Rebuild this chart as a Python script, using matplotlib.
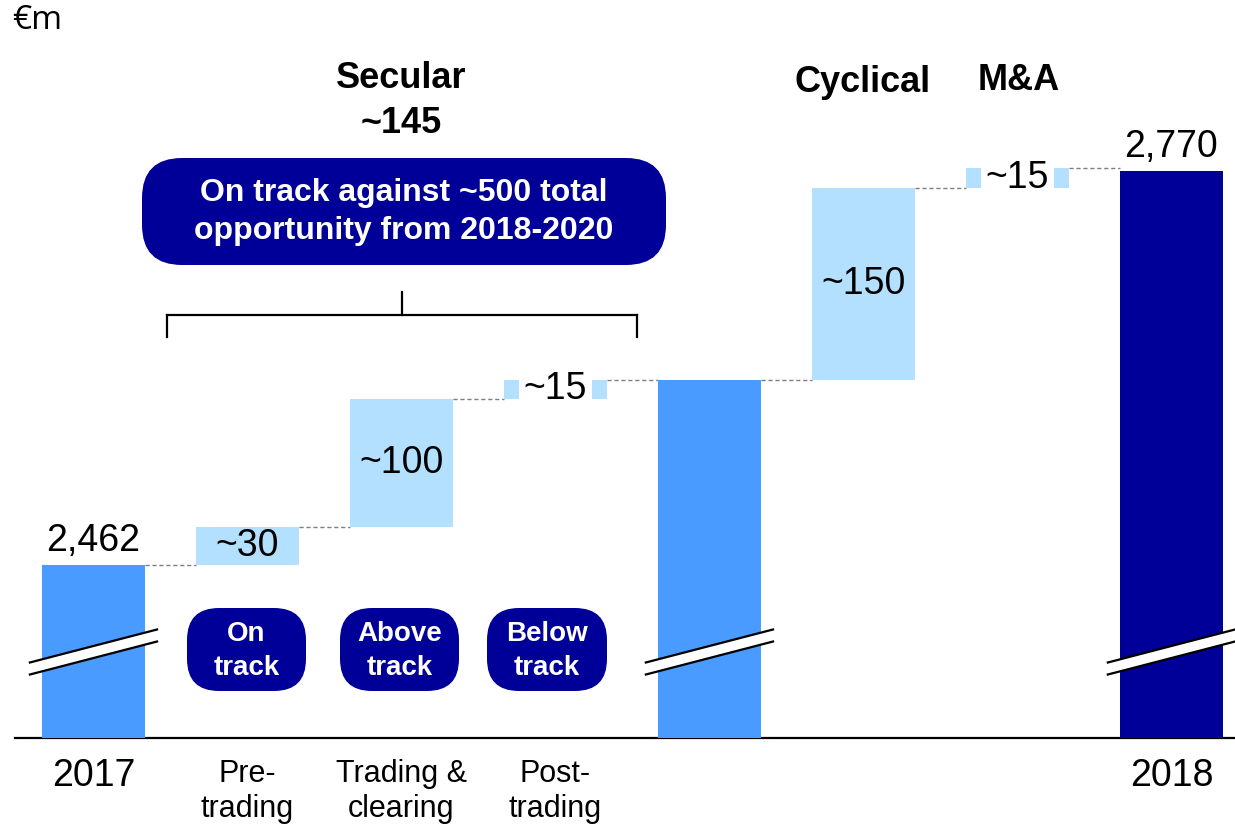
import matplotlib

matplotlib.use("Agg")
import matplotlib.pyplot as plt
from matplotlib.patches import FancyBboxPatch, Polygon
from matplotlib.transforms import IdentityTransform

# values (EUR m)
categories = ["2017", "Pre-\ntrading", "Trading &\nclearing", "Post-\ntrading", "", "", "", "2018"]
start_total = 2462
end_total = 2770
step_values = [30, 100, 15, 150, 15]
step_labels = ["~30", "~100", "~15", "~150", "~15"]
step_slots = [1, 2, 3, 5, 6]
secular_slots = 3  # first three steps make up the secular subtotal
subtotal_slot = 4
total_labels = ["2,462", "2,770"]
section_titles = ["Secular\n~145", "Cyclical", "M&A"]
track_status = ["On\ntrack", "Above\ntrack", "Below\ntrack"]
box_note = "On track against ~500 total\nopportunity from 2018-2020"

W, H, DPI = 1235, 827, 100
MID_BLUE = "#4A9BFF"
LIGHT_BLUE = "#B4E0FF"
NAVY = "#000099"
FONT = ["Liberation Sans", "DejaVu Sans"]
plt.rcParams["font.family"] = FONT

fig = plt.figure(figsize=(W / DPI, H / DPI), dpi=DPI, facecolor="white")
ax = fig.add_axes([0, 0, 1, 1])
ax.set_xlim(-0.607, 7.413)
ax.set_ylim(2257.2, 2903.7)
ax.axis("off")

BASE = 2326.8
BAR_W = 0.67
PX_PER_UNIT = 1.2792


def px(x, y):
    # top-left pixel coords -> display coords
    return x, H - y


pix = IdentityTransform()

# baseline
ax.plot([-0.51, 7.413], [BASE, BASE], color="black", lw=1.6, zorder=1)

# full bars
subtotal = start_total + sum(step_values[:secular_slots])
full = [(0, start_total, MID_BLUE), (subtotal_slot, subtotal, MID_BLUE), (7, end_total, NAVY)]
for x, v, c in full:
    ax.bar(x, v - BASE, bottom=BASE, width=BAR_W, color=c, zorder=2)

# floating steps
level = start_total
levels = []
for x, v, lab in zip(step_slots, step_values, step_labels):
    ax.bar(x, v, bottom=level, width=BAR_W, color=LIGHT_BLUE, zorder=2)
    mid = level + v / 2
    if v < 20:
        # small steps: label sits on the bar with a white backing
        ax.text(x, mid, lab, ha="center", va="center", fontsize=27, zorder=4,
                bbox=dict(boxstyle="square,pad=0.12", fc="white", ec="none"))
    else:
        ax.text(x, mid, lab, ha="center", va="center", fontsize=27, zorder=4)
    levels.append((level, level + v))
    level += v

# dashed connectors
seq = [0] + step_slots[:3] + [subtotal_slot] + step_slots[3:] + [7]
ys = [start_total] + [hi for _, hi in levels[:3]] + [subtotal] + [hi for _, hi in levels[3:]]
for i in range(len(seq) - 1):
    ax.plot([seq[i] + BAR_W / 2, seq[i + 1] - BAR_W / 2], [ys[i], ys[i]],
            color="#7f7f7f", lw=1.0, ls=(0, (3, 2)), zorder=1)

# total labels
for x, v, lab in [(0, start_total, total_labels[0]), (7, end_total, total_labels[1])]:
    ax.annotate(lab, (x, v), xytext=(0, 4), textcoords="offset points",
                ha="center", va="bottom", fontsize=27)

# axis breaks
BRK_Y = 2394.0
BRK_DX = 0.413
BRK_RISE = 12.9
BRK_GAP = 4.7
for x, _, _ in full:
    xs = [x - BRK_DX, x + BRK_DX]
    up = [BRK_Y - BRK_RISE + BRK_GAP, BRK_Y + BRK_RISE + BRK_GAP]
    dn = [BRK_Y - BRK_RISE - BRK_GAP, BRK_Y + BRK_RISE - BRK_GAP]
    ax.add_patch(Polygon([(xs[0], dn[0]), (xs[1], dn[1]), (xs[1], up[1]), (xs[0], up[0])],
                         closed=True, fc="white", ec="none", zorder=3))
    ax.plot(xs, up, color="black", lw=1.6, zorder=3)
    ax.plot(xs, dn, color="black", lw=1.6, zorder=3)

# category labels
for i, lab in enumerate(categories):
    if not lab:
        continue
    big = "\n" not in lab
    top_px = 758 if big else 759
    ax.text(i, 2257.2 + (H - top_px) / PX_PER_UNIT, lab, ha="center", va="top",
            fontsize=27 if big else 22, linespacing=1.22)

# unit
fig.text(*px(12, 4), "€m", transform=pix, ha="left", va="top", fontsize=24,
         family=["Open Sans", "DejaVu Sans"])

# section titles
fig.text(*px(401, 101), section_titles[0], transform=pix, ha="center", va="center",
         fontsize=26, fontweight="bold", linespacing=1.36)
fig.text(*px(863, 82), section_titles[1], transform=pix, ha="center", va="center",
         fontsize=26, fontweight="bold")
fig.text(*px(1019, 80), section_titles[2], transform=pix, ha="center", va="center",
         fontsize=26, fontweight="bold")

# big rounded note box
fig.patches.append(FancyBboxPatch(px(142, 265), 524, 107, transform=pix,
                                  boxstyle="round,pad=0,rounding_size=40",
                                  fc=NAVY, ec="none"))
fig.text(*px(404, 212), box_note, transform=pix, ha="center", va="center",
         fontsize=23, fontweight="bold", color="white", linespacing=1.38)

# bracket over secular steps
for (x0, y0), (x1, y1) in [[(167, 315), (637, 315)], [(167, 315), (167, 337)],
                           [(637, 315), (637, 337)], [(402, 315), (402, 292)]]:
    fig.lines.append(plt.Line2D([x0, x1], [H - y0, H - y1], transform=pix,
                                color="black", lw=1.6))

# status pills
pills = [(187, 306), (340, 459), (487, 607)]
for (x0, x1), txt in zip(pills, track_status):
    fig.patches.append(FancyBboxPatch(px(x0, 691), x1 - x0, 83, transform=pix,
                                      boxstyle="round,pad=0,rounding_size=32",
                                      fc=NAVY, ec="none"))
    fig.text(*px((x0 + x1) / 2, 651), txt, transform=pix, ha="center", va="center",
             fontsize=20, fontweight="bold", color="white", linespacing=1.38)

fig.savefig("out.png", dpi=DPI, facecolor="white")
